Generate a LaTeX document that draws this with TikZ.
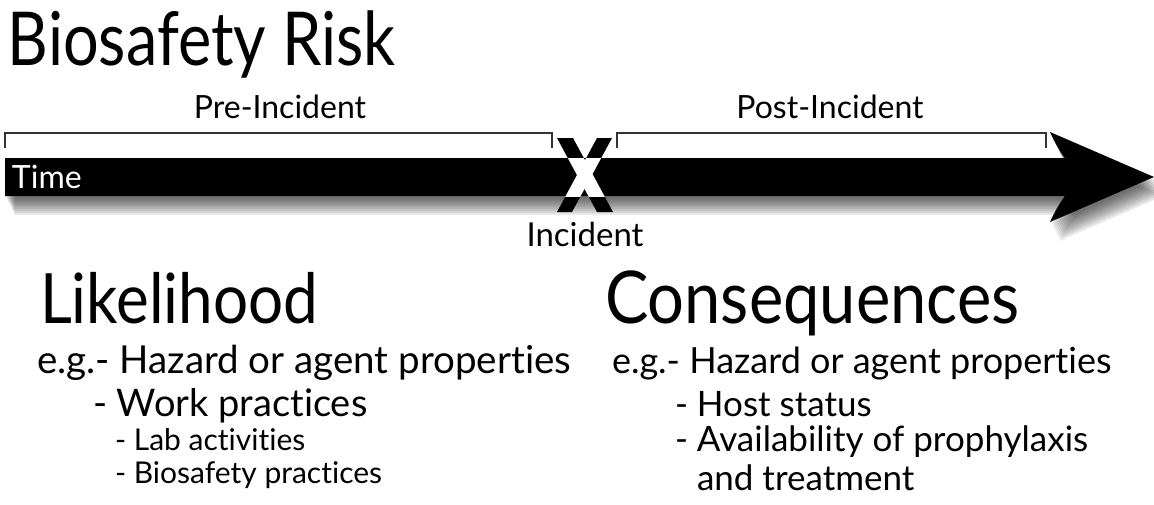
\documentclass[tikz,border=0pt]{standalone}
\usepackage{fontspec}
\setmainfont{Lato}[Ligatures={NoCommon,NoContextual,NoRare}]
\newcommand\setfs[1]{\fontsize{#1}{#1}\selectfont}
\newcommand\tallx[3]{\scalebox{1}[#1]{\setfs{#2}#3}}
\begin{document}
\begin{tikzpicture}[x=1pt,y=-1pt,
  txt/.style={inner sep=0pt, outer sep=0pt, anchor=base west},
  brk/.style={draw=black!80, line width=1.6pt},
  arrowshape/.style={insert path={(5,158) -- (1065,158) .. controls (1059,150) and (1054,141) .. (1050,132) -- (1154,177) -- (1050,222) .. controls (1054,213) and (1059,204) .. (1065,196) -- (5,196) -- cycle}},
  xa/.style={insert path={(557,138) -- (573,138) -- (613,212) -- (597,212) -- cycle}},
  xb/.style={insert path={(597,138) -- (612,138) -- (572,212) -- (557,212) -- cycle}}
]
\useasboundingbox (0,0) rectangle (1154,504);
% shadow
\foreach \d in {3,5,...,19}{
  \fill[black, opacity=0.085, shift={(0.5*\d,\d)}, arrowshape];
}
% arrow
\fill[black, arrowshape];
% X mark
\fill[black, xa];
\fill[black, xb];
\begin{scope}
  \clip (0,158) rectangle (1154,196);
  \fill[white, xa];
  \fill[white, xb];
\end{scope}
% brackets
\draw[brk] (5,148) -- (5,133) -- (552,133) -- (552,148);
\draw[brk] (617,148) -- (617,133) -- (1046,133) -- (1046,148);
% texts
\node[txt] (title) at (8,65) {\tallx{1.18}{63}{Biosafety Risk}};
\node[txt, anchor=base] (pre) at (280,118) {\setfs{32}Pre-Incident};
\node[txt, anchor=base] (post) at (830,118) {\setfs{32}Post-Incident};
\node[txt, text=white] (time) at (12,188) {\setfs{32}Time};
\node[txt, anchor=base] (incident) at (585,246) {\setfs{33}Incident};
\node[txt] (like) at (40,323) {\tallx{1.12}{62}{Likelihood}};
\node[txt] (cons) at (605,323) {\tallx{1.12}{65}{Consequences}};
\node[txt] (l1) at (37,373) {\setfs{38.5}e.g.- Hazard or agent properties};
\node[txt] (l2) at (93,416) {\setfs{38}- Work practices};
\node[txt] (l3) at (115,450) {\setfs{30}- Lab activities};
\node[txt] (l4) at (115,483) {\setfs{30}- Biosafety practices};
\node[txt] (r1) at (612,373) {\setfs{36}e.g.- Hazard or agent properties};
\node[txt] (r2) at (675,416) {\setfs{35}- Host status};
\node[txt] (r3) at (675,451) {\setfs{35}- Availability of prophylaxis};
\node[txt] (r4) at (697,490) {\setfs{35}and treatment};
\end{tikzpicture}
\end{document}
